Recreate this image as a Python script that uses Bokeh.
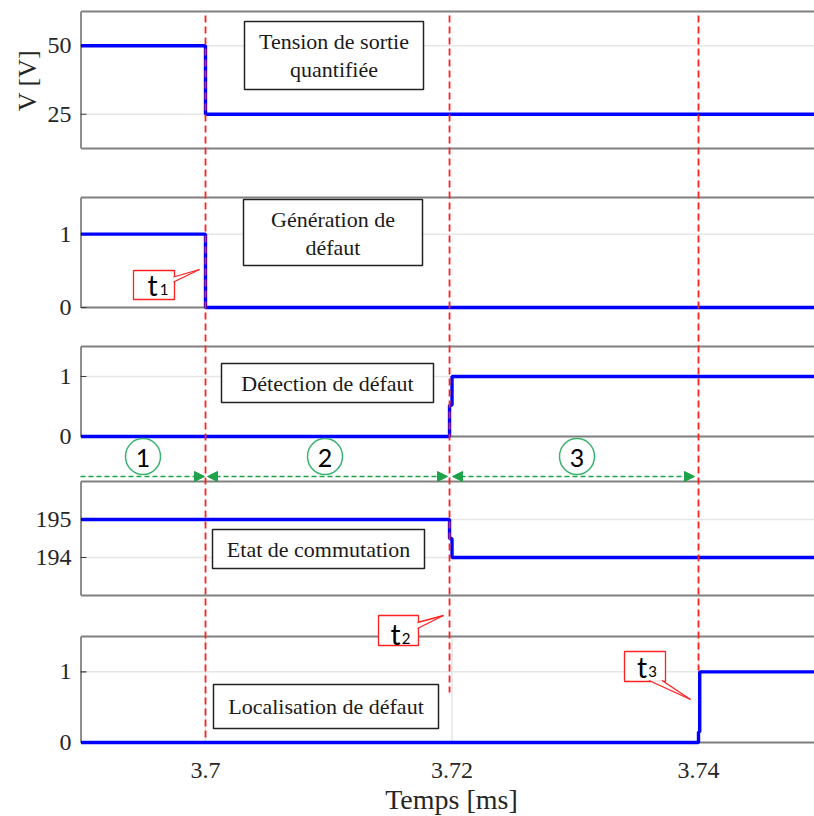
import math
from bokeh.plotting import figure
from bokeh.models import Range1d, Arrow, NormalHead
from bokeh.core.properties import value
from bokeh.embed import file_html
from bokeh.resources import INLINE

# ---------------- data ----------------
time_vout = [3.6899, 3.7, 3.7, 3.76]
vout = [50, 50, 25, 25]
time_gen = [3.6899, 3.7, 3.7, 3.76]
gen = [1, 1, 0, 0]
time_det = [3.6899, 3.7198, 3.7198, 3.72, 3.72, 3.76]
det = [0, 0, 0.52, 0.52, 1, 1]
time_state = [3.6899, 3.7198, 3.7198, 3.72, 3.72, 3.76]
state = [195, 195, 194.5, 194.5, 194, 194]
time_loc = [3.6899, 3.74, 3.74, 3.7401, 3.7401, 3.76]
loc = [0, 0, 0.15, 0.15, 1, 1]

event_times = [3.7, 3.7198, 3.74]
x_ticks = [3.7, 3.72, 3.74]
x_tick_labels = ["3.7", "3.72", "3.74"]
x_min = 3.6899

panel_names = ["vout", "gen", "det", "state", "loc"]
panel_limits = [(12.5, 62.5), (0, 1.5), (0, 1.5), (193, 196), (0, 1.5)]
panel_ticks = [[25, 50], [0, 1], [0, 1], [194, 195], [0, 1]]
panel_titles = [["Tension de sortie", "quantifiée"], ["Génération de", "défaut"],
                ["Détection de défaut"], ["Etat de commutation"], ["Localisation de défaut"]]
phase_labels = ["1", "2", "3"]
event_labels = ["1", "2", "3"]
y_label = "V [V]"
x_label = "Temps [ms]"

# ---------------- layout (pixel positions) ----------------
W, H = 814, 816
panel_px = [(11, 148), (197, 307), (346, 436), (481, 595), (636, 742)]
PXU = 12325.0  # pixels per ms
X0 = 3.7 - 205 / PXU
X1 = 3.7 + (W - 205) / PXU

SERIF = "Liberation Serif"
SANS = "Lato"
BLUE = "#0000ff"
RED = "#ff2020"
GREEN = "#1fa34a"
GRAY = "#808080"
TXT = "#262626"

p = figure(width=W, height=H, output_backend="svg", toolbar_location=None,
           x_range=Range1d(X0, X1), y_range=Range1d(H, 0),
           x_axis_location=None, y_axis_location=None,
           min_border_left=0, min_border_right=0, min_border_top=0, min_border_bottom=0)
p.outline_line_color = None
p.grid.visible = False
p.extra_x_ranges = {"px": Range1d(0, W)}

for name, (top, bottom), (lo, hi) in zip(panel_names, panel_px, panel_limits):
    s = (hi - lo) / (bottom - top)
    p.extra_y_ranges[name] = Range1d(lo - (H - bottom) * s, hi + top * s)

# grids, borders, ticks, tick labels
for name, (lo, hi), ticks in zip(panel_names, panel_limits, panel_ticks):
    n = len(ticks)
    p.segment(x0=[x_min] * n, x1=[X1 + 0.01] * n, y0=ticks, y1=ticks,
              y_range_name=name, line_color="#e6e6e6", line_width=1.5)
    if name == "loc":
        p.segment(x0=x_ticks, x1=x_ticks, y0=[lo] * 3, y1=[hi] * 3, y_range_name=name,
                  line_color="#e6e6e6", line_width=1.5)
    p.segment(x0=[x_min, x_min], x1=[X1 + 0.01, X1 + 0.01], y0=[lo, hi], y1=[lo, hi],
              y_range_name=name, line_color=GRAY, line_width=1.8)
    p.segment(x0=[x_min], x1=[x_min], y0=[lo], y1=[hi], y_range_name=name,
              line_color=GRAY, line_width=1.8)
    p.segment(x0=[80] * n, x1=[86] * n, y0=ticks, y1=ticks,
              x_range_name="px", y_range_name=name, line_color="#404040", line_width=1.2)
    p.text(x=[71] * n, y=ticks, text=[str(t) for t in ticks], x_range_name="px",
           y_range_name=name, text_font=value(SERIF), text_font_size="24px",
           text_color=TXT, text_align="right", text_baseline="middle")

# x tick labels and axis labels
p.text(x=x_ticks, y=[770] * 3, text=x_tick_labels, text_font=value(SERIF),
       text_font_size="24px", text_color=TXT, text_align="center", text_baseline="middle")
p.text(x=[451], y=[799], text=[x_label], x_range_name="px", text_font=value(SERIF),
       text_font_size="28px", text_color=TXT, text_align="center", text_baseline="middle")
p.text(x=[27], y=[80], text=[y_label], x_range_name="px", angle=math.pi / 2,
       text_font=value(SERIF), text_font_size="26px", text_color=TXT,
       text_align="center", text_baseline="middle")

# signals
for name, tx, vy in zip(panel_names, [time_vout, time_gen, time_det, time_state, time_loc],
                        [vout, gen, det, state, loc]):
    p.line(tx, vy, y_range_name=name, line_color=BLUE, line_width=3.4)

# red event lines
p.segment(x0=event_times, x1=event_times, y0=[15, 15, 15], y1=[740, 692, 670],
          line_color=RED, line_width=1.8, line_dash="7 4")

# title boxes
boxes = [(244, 423, 21, 89), (243, 422, 199, 265), (221, 433, 363, 402),
         (212, 424, 529, 568), (213, 438, 684, 728)]
p.quad(left=[b[0] for b in boxes], right=[b[1] for b in boxes],
       top=[b[2] for b in boxes], bottom=[b[3] for b in boxes], x_range_name="px",
       fill_color="white", line_color="#222222", line_width=1.5)
tx_, ty_, tt_ = [], [], []
for (l, r, t, b), lines in zip(boxes, panel_titles):
    cx = (l + r) / 2
    ys = [t + 20, t + 48] if len(lines) == 2 else [(t + b) / 2]
    for yy, s in zip(ys, lines):
        tx_.append(cx); ty_.append(yy); tt_.append(s)
p.text(x=tx_, y=ty_, text=tt_, x_range_name="px", text_font=value(SERIF),
       text_font_size="22px", text_color="#1a1a1a", text_align="center", text_baseline="middle")

# green phase arrows
arrows = [(80, 204, False), (207, 447, True), (452, 694, True)]
for xs, xe, both in arrows:
    p.add_layout(Arrow(x_start=xs, y_start=476, x_end=xe, y_end=476, x_range_name="px",
                       start=NormalHead(size=10, fill_color=GREEN, line_color=GREEN) if both else None,
                       end=NormalHead(size=10, fill_color=GREEN, line_color=GREEN),
                       line_color=GREEN, line_width=1.5, line_dash="5 3"))
circ_x = [142.5, 324.5, 576.5]
p.ellipse(x=circ_x, y=[456] * 3, width=35, height=36, x_range_name="px",
          fill_color="white", line_color="#3cb371", line_width=1.5)
p.text(x=circ_x, y=[457] * 3, text=phase_labels, x_range_name="px", text_font=value(SANS),
       text_font_size="25px", text_color="black", text_align="center", text_baseline="middle")

# callouts t1, t2, t3
cboxes = [(133, 174, 270, 299), (378, 418, 615, 645), (624, 665, 651, 681)]
p.quad(left=[b[0] for b in cboxes], right=[b[1] for b in cboxes],
       top=[b[2] for b in cboxes], bottom=[b[3] for b in cboxes], x_range_name="px",
       fill_color="white", line_color=RED, line_width=1.3)
pointers = [[(173, 276.5), (199, 269), (173, 281.5)],
            [(417, 622), (443, 615), (417, 628)],
            [(648.5, 680), (690, 699), (661.5, 680)]]
p.patches(xs=[[q[0] for q in pt] for pt in pointers], ys=[[q[1] for q in pt] for pt in pointers],
          x_range_name="px", fill_color="white", line_color=None)
sx0, sy0, sx1, sy1 = [], [], [], []
for pt in pointers:
    for a in (pt[0], pt[2]):
        sx0.append(a[0]); sy0.append(a[1]); sx1.append(pt[1][0]); sy1.append(pt[1][1])
p.segment(x0=sx0, y0=sy0, x1=sx1, y1=sy1, x_range_name="px", line_color=RED, line_width=1.3)
t_pos = [(152, 284), (395, 633), (641.5, 666)]
d_pos = [(163.5, 289), (405.5, 638), (652, 671)]
p.text(x=[a[0] for a in t_pos], y=[a[1] for a in t_pos], text=["t"] * 3, x_range_name="px",
       text_font=value(SANS), text_font_size="28px", text_color="black",
       text_align="center", text_baseline="middle")
p.text(x=[a[0] for a in d_pos], y=[a[1] for a in d_pos], text=event_labels, x_range_name="px",
       text_font=value(SANS), text_font_size="15px", text_color="black",
       text_align="center", text_baseline="middle")

open("out.html", "w").write(file_html(p, INLINE))
